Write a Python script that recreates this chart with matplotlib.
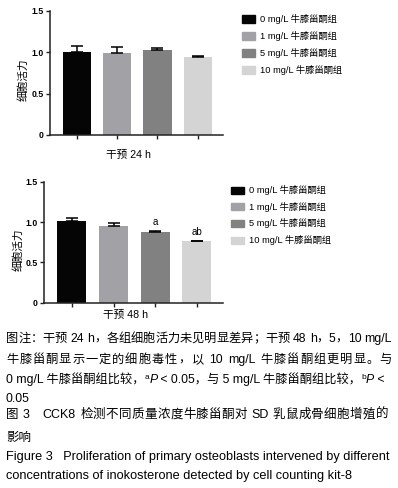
import re
import numpy as np
import matplotlib
matplotlib.use("Agg")
import matplotlib.pyplot as plt
from matplotlib.patches import Rectangle

plt.rcParams['font.family'] = ['Liberation Sans', 'Noto Sans CJK SC']

groups = ["0 mg/L 牛膝甾酮组", "1 mg/L 牛膝甾酮组", "5 mg/L 牛膝甾酮组", "10 mg/L 牛膝甾酮组"]
colors = ["#050505", "#a2a2a6", "#818181", "#d4d4d4"]

mean_24h = [1.01, 0.99, 1.03, 0.945]
err_24h = [0.07, 0.08, 0.02, 0.015]
mean_48h = [1.01, 0.95, 0.875, 0.765]
err_48h = [0.04, 0.04, 0.015, 0.005]
marks_48h = ["", "", "a", "ab"]

yticks = [0, 0.5, 1.0, 1.5]
yticklabels = ["0", "0.5", "1.0", "1.5"]

W, H = 398, 488
fig = plt.figure(figsize=(W / 100, H / 100), dpi=100)


def px_axes(l, t, r, b):
    return fig.add_axes([l / W, 1 - b / H, (r - l) / W, (b - t) / H])


def bar_panel(ax, means, errs, marks=None):
    x = np.arange(len(means))
    ax.bar(x, means, width=0.7, color=colors, zorder=2)
    ax.errorbar(x, means, yerr=[np.zeros(len(errs)), errs], fmt='none',
                ecolor='black', elinewidth=1.1, capsize=4.5, capthick=1.1, zorder=3)
    if marks:
        for xi, m, e, lab in zip(x, means, errs, marks):
            if lab:
                ax.text(xi, m + e + 0.05, lab, ha='center', va='bottom', fontsize=7)
    ax.set_xlim(-0.67, 3.63)
    ax.set_ylim(0, 1.5)
    ax.set_yticks(yticks)
    ax.set_yticklabels(yticklabels, fontsize=6.3, fontweight='bold')
    ax.set_xticks(x)
    ax.set_xticklabels([])
    for s in ['top', 'right']:
        ax.spines[s].set_visible(False)
    for s in ['left', 'bottom']:
        ax.spines[s].set_linewidth(1.1)
        ax.spines[s].set_color('#222222')
    ax.tick_params(axis='both', length=3, width=1.0, pad=1.5, color='#222222')


def legend_block(x0, y0, dy):
    for i, (g, c) in enumerate(zip(groups, colors)):
        y = y0 + i * dy
        fig.patches.append(Rectangle((x0 / W, 1 - (y + 3.5) / H), 13 / W, 7 / H,
                                     transform=fig.transFigure, color=c))
        fig.text((x0 + 18) / W, 1 - y / H, g, fontsize=6.7, va='center', ha='left')


ax1 = px_axes(50, 11, 223, 135)
bar_panel(ax1, mean_24h, err_24h)
fig.text(23 / W, 1 - 80 / H, "细胞活力", rotation=90, fontsize=7.7, ha='center', va='center')
fig.text(128 / W, 1 - 155 / H, "干预 24 h", fontsize=7.7, ha='center', va='center')
legend_block(242, 19, 17)

ax2 = px_axes(44, 181.7, 223, 302.7)
bar_panel(ax2, mean_48h, err_48h, marks_48h)
fig.text(18 / W, 1 - 250 / H, "细胞活力", rotation=90, fontsize=7.7, ha='center', va='center')
fig.text(126 / W, 1 - 315 / H, "干预 48 h", fontsize=7.7, ha='center', va='center')
legend_block(231, 190, 16.7)

renderer = fig.canvas.get_renderer()


def put_runs(x, y, runs, size=8.0, width=None, weight='normal'):
    # place text pieces one after another; optionally stretch gaps to fill width
    texts = []
    for s, kw in runs:
        t = fig.text(0, 1 - y / H, s, fontsize=kw.get('size', size), va='baseline', ha='left',
                     style=kw.get('style', 'normal'), fontweight=kw.get('weight', weight))
        t._dy = kw.get('dy', 0)
        texts.append(t)
    widths = []
    for t in texts:
        s = t.get_text()
        if s == "　":
            widths.append(size * 100 / 72)
        elif s.strip() == "":
            widths.append(size * 0.28 * 100 / 72 * len(s))
        else:
            widths.append(t.get_window_extent(renderer).width)
    gap = 0
    if width is not None and len(texts) > 1:
        gap = (width - sum(widths)) / (len(texts) - 1)
    cx = x
    for t, w in zip(texts, widths):
        t.set_position((cx / W, 1 - (y - t._dy) / H))
        cx += w + gap


def justify(x, y, line, size, width, weight='normal'):
    tokens = re.findall(r"[A-Za-z0-9./]+| +|.", line)
    put_runs(x, y, [(tk, {}) for tk in tokens], size=size, width=width, weight=weight)


cap = 8.8
justify(6, 342, "图注：干预 24 h，各组细胞活力未见明显差异；干预 48 h，5，10 mg/L", cap, 386)
justify(6, 363, "牛膝甾酮显示一定的细胞毒性，以 10 mg/L 牛膝甾酮组更明显。与", cap, 386)
put_runs(6, 383, [("0 mg/L 牛膝甾酮组比较，", {}), ("a", {'size': 6, 'dy': 4}),
                  ("P", {'style': 'italic'}), (" < 0.05，与 5 mg/L 牛膝甾酮组比较，", {}),
                  ("b", {'size': 6, 'dy': 4}), ("P", {'style': 'italic'}), (" <", {})],
         size=cap)
put_runs(6, 402, [("0.05", {})], size=cap)

justify(6, 418, "图 3　CCK8 检测不同质量浓度牛膝甾酮对 SD 乳鼠成骨细胞增殖的", 9.0, 382, weight='medium')
put_runs(6, 441, [("影响", {})], size=9.0, weight='medium')
put_runs(6, 460, [("Figure 3   Proliferation of primary osteoblasts intervened by different", {})], size=9.2)
put_runs(6, 479, [("concentrations of inokosterone detected by cell counting kit-8", {})], size=9.2)

fig.savefig("out.png", dpi=100)
